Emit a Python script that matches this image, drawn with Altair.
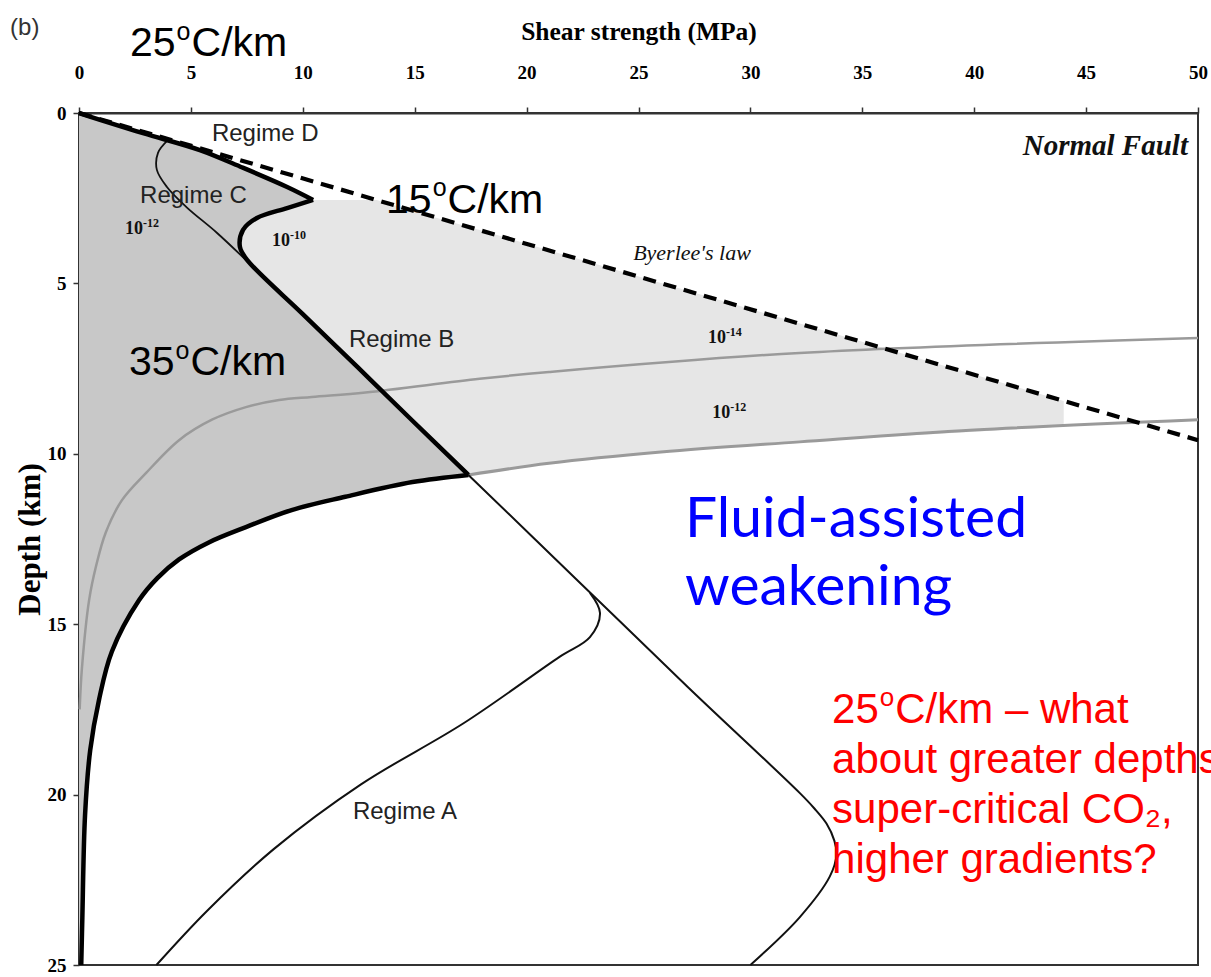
import altair as alt
import pandas as pd

# ---------------- data ----------------
x_ticks = [0, 5, 10, 15, 20, 25, 30, 35, 40, 45, 50]
depth_ticks = [0, 5, 10, 15, 20, 25]

# Byerlee's law (dashed)
byerlee_x = [0, 50]
byerlee_depth = [0, 9.6]

# thick black strength envelope, in three pieces (sharp corners between them)
thick_top_x = [0, 0.94, 2.9, 5.4, 7.3, 9.3, 10.46]
thick_top_depth = [0, 0.2, 0.6, 1.09, 1.6, 2.17, 2.55]
thick_mid_x = [10.46, 9.3, 7.95, 7.33, 7.19, 7.5, 10.0, 12.45, 14.9, 17.4]
thick_mid_depth = [2.55, 2.79, 3.08, 3.43, 3.93, 4.3, 5.9, 7.46, 9.03, 10.62]
thick_low_x = [17.4, 14.9, 11.9, 9.5, 7.46, 5.8, 4.47, 3.5, 2.68, 1.47, 0.9, 0.5, 0.27, 0.15, 0.1]
thick_low_depth = [10.62, 10.83, 11.26, 11.65, 12.15, 12.6, 13.1, 13.65, 14.3, 15.8, 17.2, 18.7, 20.6, 23.6, 25]

# thin line bounding regime C
regc_x = [3.98, 3.53, 3.48, 3.93, 4.8, 6.17, 7.75]
regc_depth = [0.79, 1.17, 1.67, 2.17, 2.76, 3.52, 4.5]

# outer regime A line
rega_out_x = [17.4, 22.3, 27.2, 32.2, 32.85, 33.4, 33.75, 33.85, 33.55, 32.2, 30.0]
rega_out_depth = [10.62, 13.73, 16.84, 19.95, 20.4, 20.85, 21.35, 21.75, 22.4, 23.6, 25]

# inner regime A line
rega_in_x = [22.83, 23.28, 22.83, 21.47, 17.2, 12.6, 8.7, 5.74, 3.46]
rega_in_depth = [14.08, 14.67, 15.38, 15.96, 17.9, 19.7, 21.6, 23.4, 25]

# grey strain-rate contours
gray_up_x = [50, 32.2, 21.0, 17.9, 12.8, 10.4, 8.94, 7.46, 5.94, 4.47, 3.0, 1.92, 1.2, 0.76,
             0.45, 0.13, 0.03]
gray_up_depth = [6.6, 7.04, 7.6, 7.8, 8.2, 8.33, 8.42, 8.63, 9.0, 9.6, 10.56, 11.36, 12.3, 13.3,
                 14.3, 16.3, 17.5]
gray_lo_x = [17.4, 21.0, 26.0, 32.2, 40.0, 50.0]
gray_lo_depth = [10.62, 10.28, 9.95, 9.65, 9.3, 9.0]

# regime B (patterned) region
patt_depth = [2.55, 2.79, 3.08, 3.43, 3.93, 4.3, 6.0, 8.0, 8.45, 9.2, 9.6, 10.0, 10.3, 10.62]
patt_left = [10.46, 9.3, 7.95, 7.33, 7.19, 7.5, 10.17, 13.3, 14.0, 15.2, 15.8, 16.4, 16.9, 17.4]
patt_right = [13.3, 14.5, 16.0, 17.9, 20.5, 22.4, 31.3, 41.7, 44.0, 44.0, 33.3, 25.2, 20.8, 17.4]

# annotation texts (x = left edge, depth = vertical centre or baseline)
regime_labels = ["Regime D", "Regime C", "Regime B", "Regime A"]
regime_x = [5.94, 2.73, 12.06, 12.24]
regime_depth = [0.62, 2.44, 6.66, 20.5]

grad_nums = ["25", "15", "35"]
grad_rest = ["C/km", "C/km", "C/km"]
grad_x = [2.28, 13.72, 2.23]
grad_base_depth = [-1.67, 2.93, 7.69]

exp_x = [2.06, 8.62, 28.1, 28.3]
exp_depth = [3.39, 3.77, 6.6, 8.8]
exp_powers = ["-12", "-10", "-14", "-12"]

blue_lines = ["Fluid-assisted", "weakening"]
blue_x = [27.08, 27.08]
blue_depth = [11.94, 13.94]

red_first_num = ["25"]
red_first_rest = ["C/km – what"]
red_lines = ["about greater depths", "super-critical CO₂,", "higher gradients?"]
red_x = [33.65, 33.65, 33.65, 33.65]
red_base_depth = [17.9, 19.37, 20.83, 22.3]

# ---------------- chart ----------------
xsc = alt.Scale(domain=[0, 50], nice=False)
ysc = alt.Scale(domain=[0, 25], reverse=True, nice=False)

x_axis = alt.Axis(orient="top", values=x_ticks, format="d", grid=False,
                  labelFont="Liberation Serif", labelFontSize=19, labelFontWeight="bold",
                  labelColor="black", labelPadding=25, labelFlush=False, labelOverlap=False,
                  titleFont="Liberation Serif", titleFontSize=25.5, titleFontWeight="bold",
                  titleColor="black", titlePadding=19,
                  tickSize=6, tickColor="#333", tickWidth=1.5,
                  domainColor="#333", domainWidth=2)
y_axis = alt.Axis(orient="left", values=depth_ticks, format="d", grid=False,
                  labelFont="Liberation Serif", labelFontSize=19, labelFontWeight="bold",
                  labelColor="black", labelPadding=7, labelFlush=False, labelOverlap=False,
                  titleFont="Liberation Serif", titleFontSize=31, titleFontWeight="bold",
                  titleColor="black", titlePadding=1,
                  tickSize=6, tickColor="#333", tickWidth=1.5,
                  domainColor="#333", domainWidth=2)


def X(field="x"):
    return alt.X(f"{field}:Q", scale=xsc, axis=x_axis, title="Shear strength (MPa)", stack=False)


def Y():
    return alt.Y("depth:Q", scale=ysc, axis=y_axis, title="Depth (km)")


def line_layer(xs, ds, **kw):
    df = pd.DataFrame({"x": xs, "depth": ds, "seq": list(range(len(xs)))})
    return alt.Chart(df).mark_line(interpolate="catmull-rom", **kw).encode(
        x=X(), y=Y(), order=alt.Order("seq:Q"))


# shaded regimes
env_x = thick_top_x + thick_mid_x[1:] + thick_low_x[1:]
env_depth = thick_top_depth + thick_mid_depth[1:] + thick_low_depth[1:]
left_df = pd.DataFrame({"x": env_x, "x0": [0] * len(env_x), "depth": env_depth})
left_area = alt.Chart(left_df).mark_area(orient="horizontal", color="#c8c8c8").encode(
    y=Y(), x=X(), x2="x0:Q")

patt_df = pd.DataFrame({"x": patt_left, "x0": patt_right, "depth": patt_depth})
patt_area = alt.Chart(patt_df).mark_area(orient="horizontal", color="#e6e6e6").encode(
    y=Y(), x=X(), x2="x0:Q")

layers = [left_area, patt_area,
          line_layer(gray_up_x, gray_up_depth, color="#9a9a9a", strokeWidth=2.5),
          line_layer(gray_lo_x, gray_lo_depth, color="#9a9a9a", strokeWidth=3),
          line_layer(byerlee_x, byerlee_depth, color="black", strokeWidth=4.2, strokeDash=[13, 8]),
          line_layer(regc_x, regc_depth, color="#111", strokeWidth=1.8),
          line_layer(rega_out_x, rega_out_depth, color="#111", strokeWidth=2),
          line_layer(rega_in_x, rega_in_depth, color="#111", strokeWidth=2),
          line_layer(thick_top_x, thick_top_depth, color="black", strokeWidth=4.5),
          line_layer(thick_mid_x, thick_mid_depth, color="black", strokeWidth=4.5),
          line_layer(thick_low_x, thick_low_depth, color="black", strokeWidth=4.5)]


def text_layer(labels, xs, ds, baseline="middle", **kw):
    df = pd.DataFrame({"label": labels, "x": xs, "depth": ds})
    return alt.Chart(df).mark_text(align="left", baseline=baseline, **kw).encode(
        x=X(), y=Y(), text="label:N")


def degree_layers(nums, rests, xs, ds, fs, color):
    fo = round(fs * 0.62)
    return [
        text_layer(nums, xs, ds, baseline="alphabetic", font="Liberation Sans", fontSize=fs, color=color),
        text_layer(["o"] * len(nums), xs, ds, baseline="alphabetic", font="Liberation Sans",
                   fontSize=fo, color=color, dx=1.112 * fs + 1, dy=-(0.716 * fs - 0.519 * fo)),
        text_layer(rests, xs, ds, baseline="alphabetic", font="Liberation Sans", fontSize=fs,
                   color=color, dx=1.112 * fs + 0.556 * fo + 2),
    ]


layers += [
    text_layer(regime_labels, regime_x, regime_depth, font="Liberation Sans", fontSize=24, color="#222"),
    text_layer(["10"] * len(exp_x), exp_x, exp_depth, font="Liberation Serif", fontSize=18,
               fontWeight="bold", color="#111"),
    text_layer(exp_powers, exp_x, exp_depth, font="Liberation Serif", fontSize=12,
               fontWeight="bold", color="#111", dx=18, dy=-6),
    text_layer(["Byerlee's law"], [24.76], [4.1], font="Liberation Serif", fontSize=22,
               fontStyle="italic", color="#111"),
    text_layer(["Normal Fault"], [42.17], [0.97], font="Liberation Serif", fontSize=29,
               fontStyle="italic", fontWeight="bold", color="#111"),
    text_layer(blue_lines, blue_x, blue_depth, font="Lato", fontSize=57, color="#0000ff"),
    text_layer(red_lines, red_x[1:], red_base_depth[1:], baseline="alphabetic",
               font="Liberation Sans", fontSize=42, color="#ff0000"),
    text_layer(["(b)"], [-3.08], [-2.5], font="Liberation Sans", fontSize=24, color="#333"),
]
layers += degree_layers(grad_nums, grad_rest, grad_x, grad_base_depth, 41, "black")
layers += degree_layers(red_first_num, red_first_rest, red_x[:1], red_base_depth[:1], 42, "#ff0000")

chart = alt.layer(*layers).properties(
    width=1119, height=852,
    autosize=alt.AutoSizeParams(type="none"),
    padding={"left": 79, "top": 113, "right": 13, "bottom": 12},
).configure_view(stroke="#333", strokeWidth=2)

chart.save("out.html", embed_options={"renderer": "svg", "actions": False})
